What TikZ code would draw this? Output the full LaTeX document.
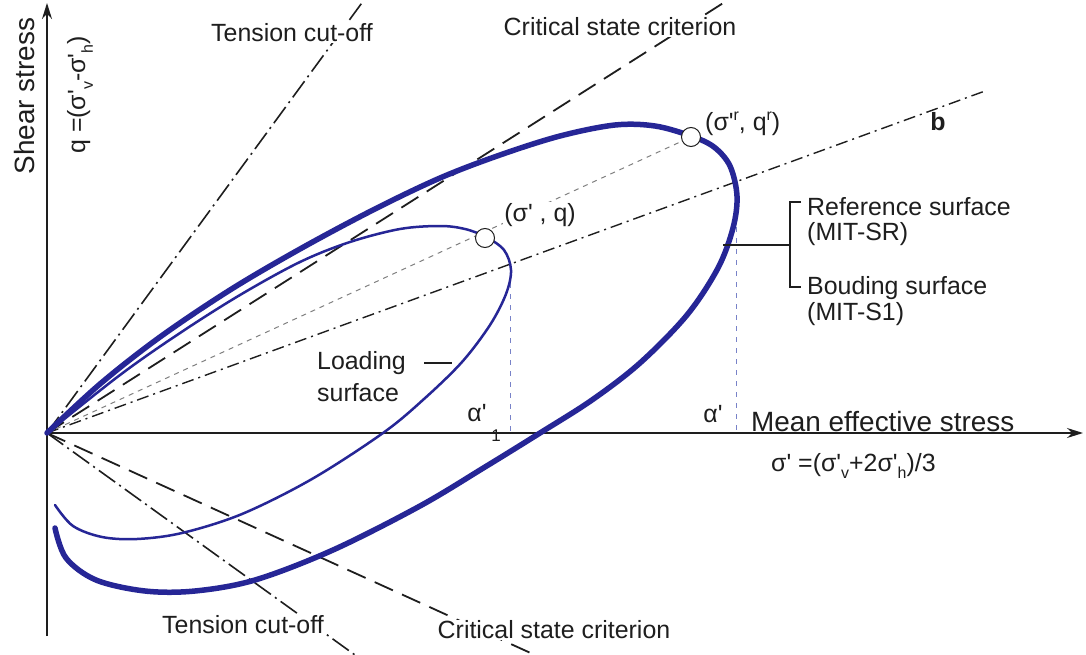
\documentclass[tikz,border=0pt]{standalone}
\usepackage{fontspec}
\setmainfont{Liberation Sans}[Ligatures=TeXOff]
\usetikzlibrary{arrows.meta}
\definecolor{ell}{RGB}{38,38,150}
\definecolor{vdash}{RGB}{120,130,200}
\definecolor{ink}{RGB}{30,30,30}
\newcommand\lo[1]{\raisebox{-0.6ex}{\fontsize{16}{16}\selectfont #1}}
\newcommand\hi[1]{\raisebox{0.8ex}{\fontsize{16}{16}\selectfont #1}}
\begin{document}
\begin{tikzpicture}[x=1bp,y=-1bp,
  lbl/.style={font=\fontsize{25}{29}\selectfont, text=ink, inner sep=1bp},
  axlbl/.style={font=\fontsize{28}{31}\selectfont, text=ink, inner sep=1bp},
  tens/.style={line width=1.6bp, ink, dash pattern=on 20bp off 5bp on 2bp off 5bp},
  crit/.style={line width=1.8bp, ink, dash pattern=on 20bp off 10bp},
  bline/.style={line width=1.4bp, ink, dash pattern=on 12bp off 5bp on 2bp off 5bp},
  ray/.style={line width=1bp, gray, dash pattern=on 5bp off 5bp},
  vdl/.style={line width=1bp, vdash, dash pattern=on 5bp off 6bp},
  bigS/.style={line width=5.5bp, ell, line cap=round},
  smallS/.style={line width=2.5bp, ell, line cap=round},
  pt/.style={circle, draw=ink, fill=white, line width=1bp, minimum size=19bp, inner sep=0},
  axis/.style={line width=1.4bp, ink, -{Stealth[length=16bp,width=10bp]}},
  lead/.style={line width=1.2bp, ink},
]
\useasboundingbox (0,0) rectangle (1086,655);
\fill[white] (0,0) rectangle (1086,655);
% key points
\coordinate (O) at (47,433);
\coordinate (tu) at (364,0);
\coordinate (tl) at (355,655);
\coordinate (cu) at (728,0);
\coordinate (cl) at (535,655);
\coordinate (be) at (985,91);
\coordinate (yb) at (47,636);
\coordinate (yt) at (47,3);
\coordinate (xe) at (1083,433);
% radial lines
\draw[tens] (O) -- (tu);
\draw[tens] (O) -- (tl);
\draw[crit] (O) -- (cu);
\draw[crit] (O) -- (cl);
\draw[bline] (O) -- (be);
\draw[ray] (O) -- (691,137);
% vertical projections
\coordinate (v1t) at (510,272);
\coordinate (v1b) at (510,433);
\coordinate (v2t) at (736,205);
\coordinate (v2b) at (736,433);
\draw[vdl] (v1t) -- (v1b);
\draw[vdl] (v2t) -- (v2b);
% axes
\draw[axis] (yb) -- (yt);
\draw[axis] (O) -- (xe);
% bounding / reference surface
\draw[bigS] plot[smooth, tension=0.55] coordinates {
 (55,528) (66,558) (96,580) (145,591) (195,591) (255,580) (333,550) (420,506)
 (485,467) (540,433) (592,400) (640,363) (687,315) (718,268) (733,228) (737,196)
 (730,166) (714,147) (691,136) (655,126) (615,125) (560,136) (500,155) (440,178)
 (373,210) (300,249) (230,290) (160,337) (100,384) (47,433)};
% loading surface
\draw[smallS] plot[smooth, tension=0.55] coordinates {
 (55,505) (73,526) (102,537) (137,539) (182,533) (242,514) (312,479)
 (383,433) (424,399) (462,362) (490,325) (506,294) (511,270) (504,250) (486,237)
 (465,229) (440,226) (400,229) (350,242) (300,262) (240,295) (180,333) (120,375) (47,433)};
% stress points
\node[pt] (cs) at (485,238) {};
\node[pt] (cr) at (691,137) {};
% bracket
\coordinate (brl) at (723,245);
\coordinate (brm) at (790,245);
\coordinate (br1) at (801,202);
\coordinate (br2) at (801,287);
\draw[lead] (brl) -- (brm);
\draw[lead] (br1) -| (brm) |- (br2);
% loading surface leader
\coordinate (ll1) at (424,363);
\coordinate (ll2) at (452,363);
\draw[lead] (ll1) -- (ll2);
% labels
\node[lbl, fill=white] (tcu) at (292,33) {Tension cut-off};
\node[lbl, fill=white] (csu) at (620,27) {Critical state criterion};
\node[lbl, fill=white] (tcl) at (243,625) {Tension cut-off};
\node[lbl, fill=white] (csl) at (554,630) {Critical state criterion};
\node[lbl, fill=white, font=\fontsize{25}{29}\selectfont\bfseries] (bl) at (938,122) {b};
\node[lbl, anchor=west] (lr) at (704,124) {(σ'\hi{r}, q\hi{r})};
\node[lbl, fill=white] (lq) at (540,215) {(σ' , q)};
\node[lbl, anchor=west] (rs1) at (806,207) {Reference surface};
\node[lbl, anchor=west] (rs2) at (806,234) {(MIT-SR)};
\node[lbl, anchor=west] (bs1) at (806,288) {Bouding surface};
\node[lbl, anchor=west] (bs2) at (806,314) {(MIT-S1)};
\node[lbl, anchor=west] (ls1) at (316,363) {Loading};
\node[lbl, anchor=west] (ls2) at (316,393) {surface};
\node[lbl] (a1) at (477,413) {α'};
\node[lbl, font=\fontsize{17}{17}\selectfont] (a1s) at (496,436) {1};
\node[lbl] (a2) at (713,414) {α'};
\node[axlbl, anchor=west] (xl) at (750,422) {Mean effective stress};
\node[lbl, anchor=west] (xf) at (770,466) {σ' =(σ'\lo{v}+2σ'\lo{h})/3};
\node[axlbl, rotate=90] (yl) at (25,96) {Shear stress};
\node[lbl, rotate=90] (yf) at (80,95) {q =(σ'\lo{v}-σ'\lo{h})};
\end{tikzpicture}
\end{document}
